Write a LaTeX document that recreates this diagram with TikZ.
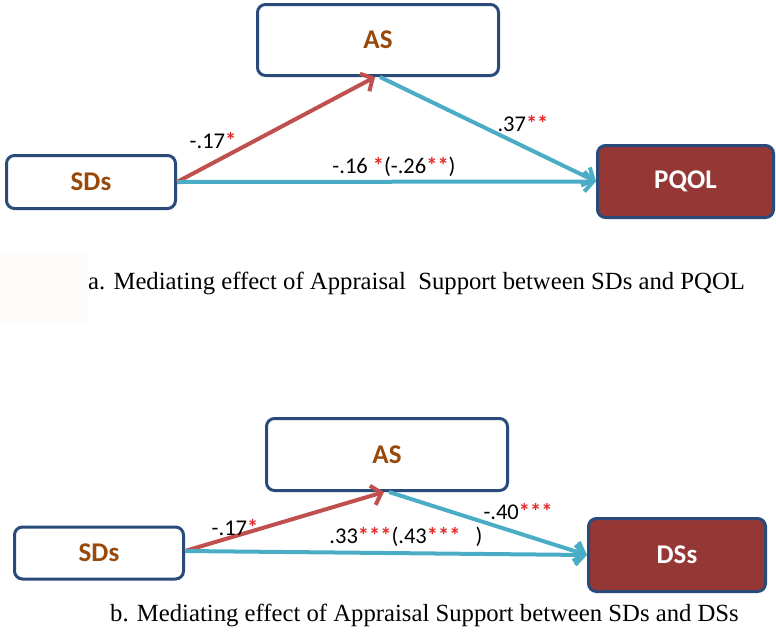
\documentclass[tikz,border=0pt]{standalone}
\usepackage{fontspec}
\setmainfont{Liberation Serif}
\newfontfamily\labfont{Carlito}
\usetikzlibrary{arrows.meta}
\definecolor{boxline}{RGB}{42,74,122}
\definecolor{boxtext}{RGB}{152,72,8}
\definecolor{boxfill}{RGB}{149,55,53}
\definecolor{redarrow}{RGB}{192,80,77}
\definecolor{bluearrow}{RGB}{75,172,198}
\definecolor{starred}{RGB}{228,40,40}
\definecolor{faint}{RGB}{253,252,250}
\newcommand{\stars}[1]{\textcolor{starred}{\bfseries #1}}
\tikzset{
  varbox/.style={draw=boxline, line width=3pt, rounded corners=8pt, fill=white,
    text=boxtext, font=\labfont\bfseries\fontsize{27}{30}\selectfont, inner sep=0pt},
  outbox/.style={varbox, fill=boxfill, text=white},
  arr/.style={line width=4pt, -{Straight Barb[length=9pt,width=20pt]}},
  redarr/.style={arr, draw=redarrow},
  bluearr/.style={arr, draw=bluearrow},
  coef/.style={font=\labfont\fontsize{22.5}{26}\selectfont, inner sep=0pt, anchor=base},
  caption/.style={font=\fontsize{24.7}{28}\selectfont, inner sep=0pt, anchor=base west}
}
\begin{document}
\begin{tikzpicture}[x=1pt,y=-1pt]
\useasboundingbox (0,0) rectangle (776,638);
\fill[faint] (0,253) rectangle (88,322);
% panel a
\node[varbox, minimum width=241pt, minimum height=71pt] (asA) at (378,40) {AS};
\node[varbox, minimum width=169pt, minimum height=53pt] (sdsA) at (91,182) {SDs};
\node[outbox, minimum width=176pt, minimum height=72pt] (pqol) at (685.5,181.5) {PQOL};
\draw[redarr] (sdsA.east) -- ([xshift=-3pt]asA.south);
\draw[bluearr] ([xshift=2pt]asA.south) -- (pqol.west);
\draw[bluearr] (sdsA.east) -- (pqol.west);
\node[coef] (la1) at (213,148) {-.17\stars{*}};
\node[coef] (la2) at (523,131) {.37\stars{**}};
\node[coef] (la3) at (394,173) {-.16 \stars{*}(-.26\stars{**})};
\node[caption] (capA) at (88,289) {a. Mediating effect of Appraisal\ \ Support between SDs and PQOL};
% panel b
\node[varbox, minimum width=241pt, minimum height=72pt] (asB) at (387,454.5) {AS};
\node[varbox, minimum width=169pt, minimum height=52pt] (sdsB) at (99,553) {SDs};
\node[outbox, minimum width=177pt, minimum height=73pt] (dss) at (677,555) {DSs};
\draw[redarr] ([yshift=2pt]sdsB.east) -- ([xshift=-3pt]asB.south);
\draw[bluearr] ([xshift=2pt]asB.south) -- (dss.west);
\draw[bluearr] ([yshift=2pt]sdsB.east) -- (dss.west);
\node[coef] (lb1) at (235,535) {-.17\stars{*}};
\node[coef] (lb2) at (518,519) {-.40\stars{***}};
\node[coef] (lb3) at (406,543) {.33\stars{***}(.43\stars{***}\ \ \ )};
\node[caption] (capB) at (110,621) {b. Mediating effect of Appraisal Support between SDs and DSs};
\end{tikzpicture}
\end{document}
